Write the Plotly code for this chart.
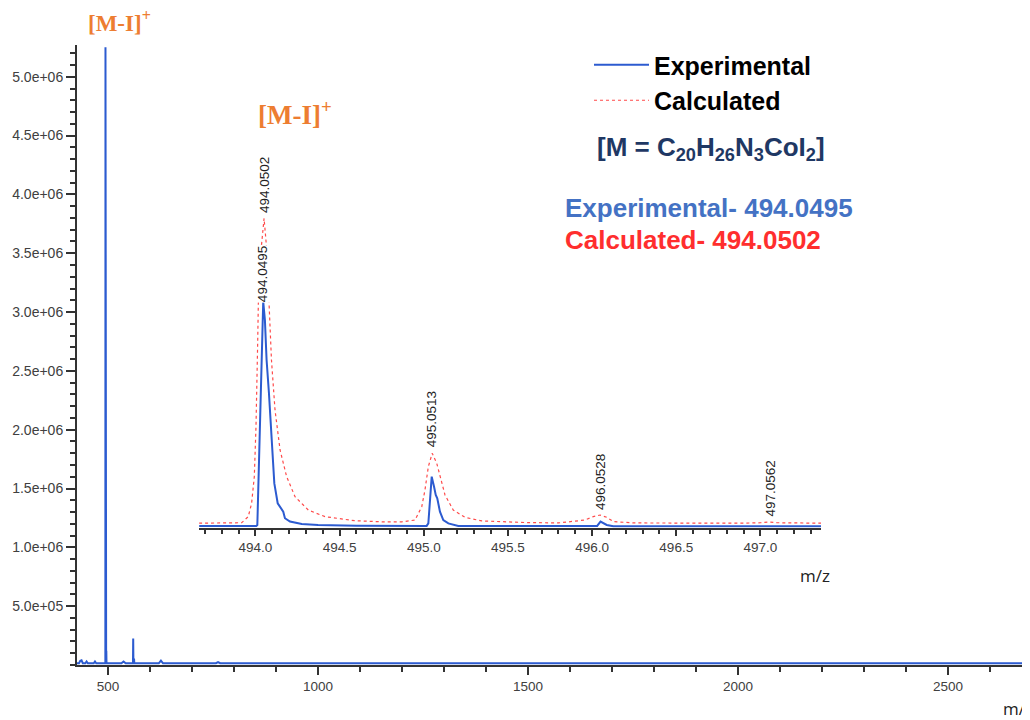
import plotly.graph_objects as go

# ---------------- data ----------------
# full-range spectrum (m/z, intensity)
main_mz = [426, 431, 434, 437, 440, 446, 449, 452, 466, 469, 472, 490,
           493.7, 494.0, 494.3, 495.6, 496.0, 496.4, 532, 537, 542,
           559.5, 560.0, 560.5, 561.5, 562.0, 562.6, 621, 626, 631,
           757, 762, 767, 1000, 1500, 2000, 2700]
main_int = [1.5e4, 1.5e4, 3.5e4, 4.0e4, 1.5e4, 1.5e4, 3.0e4, 1.5e4, 1.5e4, 3.0e4, 1.5e4, 1.5e4,
            1.5e4, 5.25e6, 1.5e4, 1.5e4, 1.2e5, 1.5e4, 1.5e4, 3.0e4, 1.5e4,
            1.5e4, 2.25e5, 1.5e4, 1.5e4, 5.5e4, 1.5e4, 1.5e4, 3.8e4, 1.5e4,
            1.5e4, 2.5e4, 1.5e4, 1.5e4, 1.5e4, 1.5e4, 1.5e4]

# inset: experimental isotope pattern (relative intensity)
exp_mz = [493.665, 493.8, 493.95, 494.005, 494.011, 494.023, 494.037, 494.046, 494.056, 494.066,
          494.080, 494.096, 494.112, 494.132, 494.156, 494.165, 494.175, 494.205, 494.275, 494.372,
          494.6, 494.9, 495.0, 495.017, 495.027, 495.037, 495.047, 495.061, 495.071, 495.080,
          495.096, 495.116, 495.146, 495.205, 495.4, 495.8, 496.0, 496.03, 496.05, 496.087,
          496.126, 496.5, 497.0, 497.06, 497.12, 497.36]
exp_int = [0.8, 0.8, 0.8, 0.8, 1.2, 37.3, 81.6, 100, 91.9, 74.2,
           59.5, 37.3, 19.6, 10.8, 7.8, 7.1, 4.2, 2.7, 1.6, 1.2,
           0.9, 0.8, 0.8, 0.8, 1.9, 13.7, 22.6, 18.1, 14.5, 13.0,
           7.1, 3.4, 1.9, 0.8, 0.8, 0.8, 0.8, 0.8, 2.7, 1.2,
           0.6, 0.6, 0.6, 0.9, 0.6, 0.6]

# inset: calculated isotope pattern (relative intensity)
calc_mz = [493.665, 493.8, 493.918, 493.957, 493.977, 493.993, 494.003, 494.013, 494.017, 494.033,
           494.051, 494.067, 494.080, 494.095, 494.116, 494.146, 494.185, 494.235, 494.314, 494.413,
           494.589, 494.75, 494.87, 494.948, 494.988, 495.007, 495.027, 495.050, 495.077, 495.096,
           495.126, 495.175, 495.245, 495.344, 495.423, 495.6, 495.8, 495.958, 496.007, 496.047,
           496.087, 496.126, 496.25, 496.5, 496.9, 497.0, 497.047, 497.1, 497.36]
calc_int = [2.0, 2.0, 2.2, 4.9, 10.8, 22.6, 44.7, 81.6, 99.3, 122.9,
            136.9, 122.9, 99.3, 74.2, 52.1, 34.4, 22.6, 13.7, 7.8, 4.9,
            3.1, 2.6, 2.6, 3.4, 9.3, 16.7, 27.0, 32.9, 28.5, 22.6,
            14.5, 7.8, 4.6, 3.0, 2.7, 2.3, 2.1, 3.4, 4.9, 5.6,
            4.6, 2.7, 2.1, 2.0, 2.0, 2.2, 2.5, 2.2, 2.0]

# peak labels in the inset
peak_text = ["494.0502", "494.0495", "495.0513", "496.0528", "497.0562"]
peak_x = [494.05, 494.046, 495.05, 496.05, 497.06]
peak_y = [151.6, 112.3, 48.1, 20.0, 17.1]

main_tickvals = [500, 1000, 1500, 2000, 2500]
y_tickvals = [5e5, 1e6, 1.5e6, 2e6, 2.5e6, 3e6, 3.5e6, 4e6, 4.5e6, 5e6]
y_ticktext = ["5.0e+05", "1.0e+06", "1.5e+06", "2.0e+06", "2.5e+06",
              "3.0e+06", "3.5e+06", "4.0e+06", "4.5e+06", "5.0e+06"]

# ---------------- layout helpers ----------------
# page has an 8px body margin, so the figure is drawn 8px smaller
W, H = 1022, 712
L, R, T, B = 69, 0, 37, 55
PW, PH = W - L - R, H - T - B
OFF = 8


def px(x):  # page pixel -> paper fraction
    return (x - OFF - L) / PW


def py(y):
    return (H - B - (y - OFF)) / PH


BLUE = "#2C5BD0"
RED = "#FF4A4A"
AX = "#333333"
TICKF = dict(family="Liberation Sans, Arial", size=13.5, color="#404040")
YTICKF = dict(family="Liberation Sans, Arial", size=14, color="#404040")

fig = go.Figure()

fig.add_trace(go.Scatter(x=main_mz, y=main_int, mode="lines",
                         line=dict(color=BLUE, width=2), showlegend=False,
                         xaxis="x", yaxis="y"))
fig.add_trace(go.Scatter(x=exp_mz, y=exp_int, mode="lines", name="Experimental",
                         line=dict(color=BLUE, width=2), xaxis="x2", yaxis="y2"))
fig.add_trace(go.Scatter(x=calc_mz, y=calc_int, mode="lines", name="Calculated",
                         line=dict(color=RED, width=1.2, dash="dot"), xaxis="x2", yaxis="y2"))

annotations = []
for t, x, y in zip(peak_text, peak_x, peak_y):
    annotations.append(dict(x=x, y=y, xref="x2", yref="y2", text=t, textangle=-90,
                            showarrow=False, xanchor="center", yanchor="middle",
                            font=dict(family="Liberation Sans, Arial", size=13.5, color="#222222"),
                            bgcolor="white" if t == "494.0495" else None,
                            borderpad=0))

ORANGE = "#ED7D31"
annotations += [
    dict(x=px(86), y=py(22), xref="paper", yref="paper", xanchor="left", yanchor="middle",
         text="<b>[M-I]<sup>+</sup></b>", showarrow=False,
         font=dict(family="Liberation Serif, Times New Roman", size=23, color=ORANGE)),
    dict(x=px(256), y=py(113), xref="paper", yref="paper", xanchor="left", yanchor="middle",
         text="<b>[M-I]<sup>+</sup></b>", showarrow=False,
         font=dict(family="Liberation Serif, Times New Roman", size=27, color=ORANGE)),
    dict(x=px(711), y=py(148), xref="paper", yref="paper", xanchor="center", yanchor="middle",
         text="<b>[M = C<sub>20</sub>H<sub>26</sub>N<sub>3</sub>CoI<sub>2</sub>]</b>", showarrow=False,
         font=dict(family="Liberation Sans, Arial", size=26, color="#1F3864")),
    dict(x=px(563), y=py(208), xref="paper", yref="paper", xanchor="left", yanchor="middle",
         text="<b>Experimental- 494.0495</b>", showarrow=False,
         font=dict(family="Liberation Sans, Arial", size=26, color="#4472C4")),
    dict(x=px(563), y=py(240), xref="paper", yref="paper", xanchor="left", yanchor="middle",
         text="<b>Calculated- 494.0502</b>", showarrow=False,
         font=dict(family="Liberation Sans, Arial", size=26, color="#FF2E2E")),
    dict(x=px(798), y=py(575), xref="paper", yref="paper", xanchor="left", yanchor="middle",
         text="m/z", showarrow=False,
         font=dict(family="Open Sans", size=17, color="#222222")),
    dict(x=px(1001), y=py(708), xref="paper", yref="paper", xanchor="left", yanchor="middle",
         text="m/z", showarrow=False,
         font=dict(family="Open Sans", size=17, color="#222222")),
]

fig.update_layout(
    width=W, height=H,
    margin=dict(l=L, r=R, t=T, b=B),
    paper_bgcolor="white", plot_bgcolor="white",
    showlegend=True,
    legend=dict(x=px(589), y=py(42), xanchor="left", yanchor="top",
                bgcolor="rgba(0,0,0,0)", itemwidth=55, tracegroupgap=0,
                font=dict(family="Liberation Sans, Arial", size=25, color="black", weight="bold")),
    xaxis=dict(range=[426.2, 2695], showgrid=False, zeroline=False,
               showline=True, linecolor=AX, linewidth=2,
               tickvals=main_tickvals, ticks="outside", ticklen=8, tickwidth=1.5, tickcolor=AX,
               tickfont=TICKF,
               minor=dict(dtick=100, tick0=0, ticks="outside", ticklen=5, tickwidth=1.5, tickcolor=AX)),
    yaxis=dict(range=[0, 5.27e6], showgrid=False, zeroline=False,
               showline=True, linecolor=AX, linewidth=2,
               tickvals=y_tickvals, ticktext=y_ticktext,
               ticks="outside", ticklen=9, tickwidth=1.5, tickcolor=AX, tickfont=YTICKF,
               minor=dict(dtick=1e5, tick0=0, ticks="outside", ticklen=5, tickwidth=1.5, tickcolor=AX)),
    xaxis2=dict(domain=[px(199.1), px(821)], anchor="y2", range=[493.665, 497.36],
                showgrid=False, zeroline=False, showline=True, linecolor=AX, linewidth=2,
                tick0=494, dtick=0.5, tickformat=".1f", ticks="outside", ticklen=6,
                tickwidth=1.5, tickcolor=AX, tickfont=TICKF,
                minor=dict(dtick=0.1, tick0=494, ticks="outside", ticklen=4, tickwidth=1.5, tickcolor=AX)),
    yaxis2=dict(domain=[py(527.7), py(527.7 - 170 * 2.26)], anchor="x2", range=[0, 170], visible=False),
    annotations=annotations,
)

fig.write_html("out.html")
